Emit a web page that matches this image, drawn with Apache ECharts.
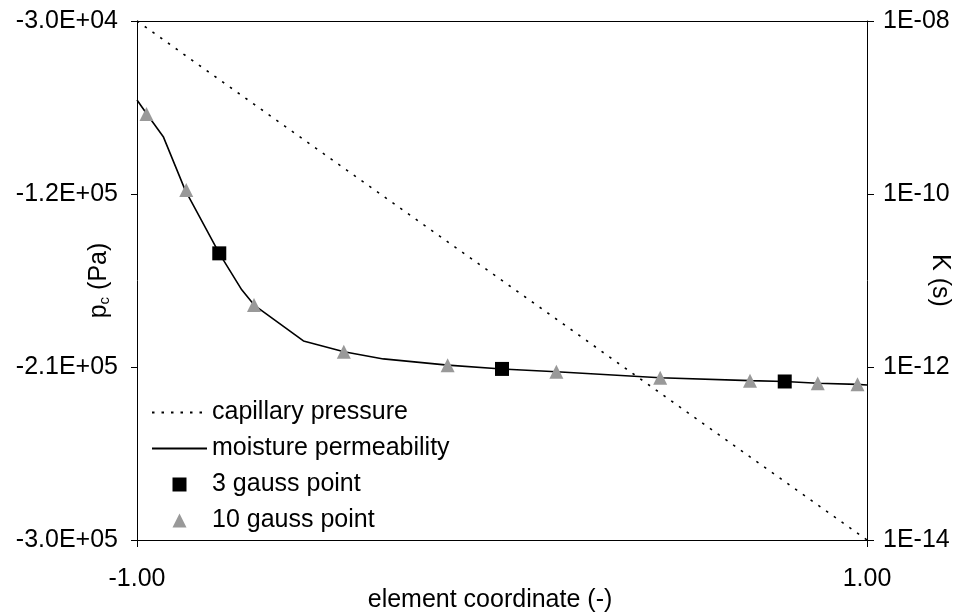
<!DOCTYPE html>
<html><head><meta charset="utf-8">
<script src="https://cdn.jsdelivr.net/npm/echarts@6/dist/echarts.min.js"></script>
<style>html,body{margin:0;padding:0;background:#fff}#c{width:961px;height:612px}</style>
</head><body><div id="c"></div>
<script>
// ---- data ----
const seriesNames = ['capillary pressure', 'moisture permeability', '3 gauss point', '10 gauss point'];

const pcX = [-1, 1];
const pcValues = [-30000, -300000];

const permX = [-1.000, -0.973, -0.928, -0.868, -0.7746, -0.713, -0.679, -0.544, -0.433, -0.325, -0.149, 0.0, 0.149, 0.433, 0.679, 0.775, 0.865, 0.974, 1.000];
const permK = [1.22e-9, 8.4e-10, 4.6e-10, 1.11e-10, 2.06e-11, 7.8e-12, 5.2e-12, 2.0e-12, 1.5e-12, 1.24e-12, 1.05e-12, 9.5e-13, 8.8e-13, 7.5e-13, 6.95e-13, 6.8e-13, 6.5e-13, 6.3e-13, 6.2e-13];

const gauss3X = [-0.7746, 0.0, 0.7746];
const gauss3K = [2.06e-11, 9.5e-13, 6.8e-13];

const gauss10X = [-0.9739, -0.8651, -0.6794, -0.4334, -0.1489, 0.1489, 0.4334, 0.6794, 0.8651, 0.9739];
const gauss10K = [8.4e-10, 1.11e-10, 5.2e-12, 1.5e-12, 1.05e-12, 8.8e-13, 7.5e-13, 6.95e-13, 6.5e-13, 6.3e-13];

// ---- helpers ----
const FONT = '"Liberation Sans", Arial, sans-serif';
const FS = 25;
const zip = (a, b) => a.map((v, i) => [v, b[i]]);
function fmtPc(v) {
  const s = v.toExponential(1).toUpperCase();
  return s.replace(/E([+-])(\d)$/, 'E$10$2');
}
function fmtK(v) {
  const e = Math.round(Math.log10(v));
  const sign = e < 0 ? '-' : '+';
  const a = Math.abs(e);
  return '1E' + sign + (a < 10 ? '0' + a : '' + a);
}
// legend icons: a 55x14 box (degenerate corner segments) with the marker centred in it
const squareIcon = 'path://M0,0L0,0M55,14L55,14M20.5,0L34.5,0L34.5,14L20.5,14Z';
const triangleIcon = 'path://M0,0L0,0M55,14L55,14M27.5,0L34.5,14L20.5,14Z';

const chart = echarts.init(document.getElementById('c'), null, {renderer: 'canvas'});
const axisText = {color: '#000', fontSize: FS, fontFamily: FONT};
const blackLine = {show: true, onZero: false, lineStyle: {color: '#000', width: 1}};

chart.setOption({
  animation: false,
  backgroundColor: '#fff',
  grid: {left: 137, right: 94, top: 21, bottom: 72, outerBoundsMode: 'none', containLabel: false, show: false},
  legend: {
    show: true, orient: 'vertical', left: 146, top: 395,
    itemWidth: 55, itemHeight: 14, itemGap: 11,
    data: [
      {name: seriesNames[0], itemStyle: {opacity: 0}},
      {name: seriesNames[1], itemStyle: {opacity: 0}},
      {name: seriesNames[2], icon: squareIcon},
      {name: seriesNames[3], icon: triangleIcon}
    ],
    textStyle: {color: '#000', fontSize: FS, fontFamily: FONT}
  },
  xAxis: [
    {
      type: 'value', position: 'bottom', min: -1, max: 1, interval: 2,
      name: 'element coordinate (-)', nameLocation: 'middle', nameGap: 48, nameMoveOverlap: false,
      nameTextStyle: {color: '#000', fontSize: FS, fontFamily: FONT, padding: [0, 24, 0, 0]},
      axisLine: blackLine,
      axisTick: {show: true, length: 7, lineStyle: {color: '#000'}},
      axisLabel: {...axisText, margin: 27, formatter: v => v.toFixed(2)},
      splitLine: {show: false}
    },
    {
      type: 'value', position: 'top', min: -1, max: 1, interval: 2,
      axisLine: blackLine, axisTick: {show: false}, axisLabel: {show: false}, splitLine: {show: false}
    }
  ],
  yAxis: [
    {
      type: 'value', position: 'left', min: -300000, max: -30000, interval: 90000,
      name: '{a|p}{s|c}{a| (Pa)}', nameLocation: 'middle', nameGap: 25, nameMoveOverlap: false,
      nameTextStyle: {rich: {a: {color: '#000', fontSize: FS, fontFamily: FONT}, s: {color: '#000', fontSize: 15, fontFamily: FONT, verticalAlign: 'bottom', padding: [9, 0, 0, 0]}}},
      axisLine: blackLine,
      axisTick: {show: true, length: 6, lineStyle: {color: '#000'}},
      axisLabel: {...axisText, margin: 19, formatter: v => fmtPc(v)},
      splitLine: {show: false}
    },
    {
      type: 'log', logBase: 10, position: 'right', min: 1e-14, max: 1e-8, interval: 2,
      name: 'K (s)', nameLocation: 'middle', nameGap: 60, nameRotate: -90, nameMoveOverlap: false,
      nameTextStyle: {color: '#000', fontSize: FS, fontFamily: FONT},
      axisLine: blackLine,
      axisTick: {show: true, length: 7, lineStyle: {color: '#000'}},
      minorTick: {show: false},
      axisLabel: {...axisText, margin: 16, formatter: v => fmtK(v)},
      splitLine: {show: false}
    }
  ],
  series: [
    {
      name: seriesNames[0], type: 'line', yAxisIndex: 0, symbol: 'none',
      data: zip(pcX, pcValues),
      lineStyle: {color: '#000', width: 1.6, type: [2.5, 7]},
      itemStyle: {color: '#000'}
    },
    {
      name: seriesNames[1], type: 'line', yAxisIndex: 1, symbol: 'none',
      data: zip(permX, permK),
      lineStyle: {color: '#000', width: 1.6},
      itemStyle: {color: '#000'}
    },
    {
      name: seriesNames[2], type: 'scatter', yAxisIndex: 1, symbol: 'rect', symbolSize: 14,
      data: zip(gauss3X, gauss3K),
      itemStyle: {color: '#000', opacity: 1}, z: 4
    },
    {
      name: seriesNames[3], type: 'scatter', yAxisIndex: 1, symbol: 'triangle', symbolSize: 14,
      data: zip(gauss10X, gauss10K),
      itemStyle: {color: '#999999', opacity: 1}, z: 3
    }
  ]
});
</script></body></html>
